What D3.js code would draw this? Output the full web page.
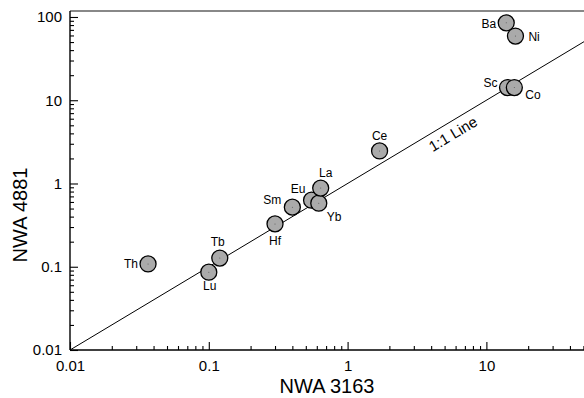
<!DOCTYPE html>
<html>
<head>
<meta charset="utf-8">
<script src="https://cdn.jsdelivr.net/npm/d3@7"></script>
<style>
  body { margin: 0; background: #fff; }
  svg { display: block; }
  svg text { font-family: "Liberation Sans", Arial, sans-serif; fill: #000; }
  .axis path { stroke: #000; stroke-width: 1.4; }
  .axis line { stroke: #000; stroke-width: 1.1; }
  .axis text { font-size: 15px; }
  .pt { fill: #aaaaaa; stroke: #000; stroke-width: 1.3; }
  .lbl { font-size: 12px; }
</style>
</head>
<body>
<svg id="chart" width="584" height="398"></svg>
<script>
// element names and concentrations (NWA 3163 vs NWA 4881)
var elements = ["Th", "Lu", "Tb", "Hf", "Sm", "Eu", "Yb", "La", "Ce", "Sc", "Co", "Ba", "Ni"];
var nwa3163 = [0.0365, 0.10, 0.12, 0.30, 0.40, 0.55, 0.62, 0.64, 1.70, 14.2, 15.9, 13.9, 16.2];
var nwa4881 = [0.108, 0.086, 0.127, 0.327, 0.52, 0.63, 0.58, 0.88, 2.46, 14.2, 14.2, 85, 59];
// label placement: dx, dy, anchor
var labelPos = [
  [-10, 4, "end"], [1, 18, "middle"], [-2, -12, "middle"], [0, 21, "middle"],
  [-11, -3, "end"], [-6, -7, "end"], [8, 18, "start"], [5, -11, "middle"],
  [0, -11, "middle"], [-10, -1, "end"], [11, 11, "start"], [-10, 5, "end"],
  [13, 5, "start"]
];
var xTicks = [0.01, 0.1, 1, 10];
var yTicks = [0.01, 0.1, 1, 10, 100];

var svg = d3.select("#chart");
var mLeft = 70, mBottom = 350, mRight = 584, mTop = 11;

var x = d3.scaleLog().domain([0.01, 50.5]).range([mLeft, mRight]);
var y = d3.scaleLog().domain([0.01, 118]).range([mBottom, mTop]);

// minor ticks
function minors(dom) {
  var out = [];
  for (var e = -2; e <= 2; e++) {
    for (var m = 2; m <= 9; m++) {
      var v = m * Math.pow(10, e);
      if (v >= dom[0] && v <= dom[1]) out.push(v);
    }
  }
  return out;
}

// top frame line
svg.append("line")
  .attr("x1", mLeft).attr("x2", mRight)
  .attr("y1", mTop).attr("y2", mTop)
  .attr("stroke", "#888").attr("stroke-width", 2);

svg.append("g").attr("class", "axis")
  .attr("transform", "translate(0," + mBottom + ")")
  .call(d3.axisTop(x).tickValues(minors(x.domain())).tickSize(4).tickFormat(""))
  .call(g => g.select(".domain").remove());
svg.append("g").attr("class", "axis")
  .attr("transform", "translate(" + mLeft + ",0)")
  .call(d3.axisRight(y).tickValues(minors(y.domain())).tickSize(4).tickFormat(""))
  .call(g => g.select(".domain").remove());

var xAxis = svg.append("g").attr("class", "axis")
  .attr("transform", "translate(0," + mBottom + ")")
  .call(d3.axisTop(x).tickValues(xTicks).tickSize(8).tickSizeOuter(0).tickFormat(d3.format("~g")));
xAxis.selectAll("text").attr("y", 10).attr("dy", "0.71em");
xAxis.select(".domain").attr("d", "M" + mLeft + ",0H" + mRight);

var yAxis = svg.append("g").attr("class", "axis")
  .attr("transform", "translate(" + mLeft + ",0)")
  .call(d3.axisRight(y).tickValues(yTicks).tickSize(8).tickSizeOuter(0).tickFormat(d3.format("~g")));
yAxis.selectAll("text").attr("x", -8).attr("text-anchor", "end");
yAxis.select(".domain").attr("d", "M0," + mBottom + "V" + mTop);

// 1:1 line
var lineEnd = 50.5;
svg.append("line")
  .attr("x1", x(0.01)).attr("y1", y(0.01))
  .attr("x2", x(lineEnd)).attr("y2", y(lineEnd))
  .attr("stroke", "#000").attr("stroke-width", 1);

var ang = Math.atan2(y(0.01) - y(10), x(10) - x(0.01));
var off = 17;
svg.append("text")
  .attr("transform", "translate(" + (x(5.2) + off * Math.sin(ang)) + "," + (y(5.2) + off * Math.cos(ang)) +
    ") rotate(" + (-ang * 180 / Math.PI) + ")")
  .attr("text-anchor", "middle")
  .attr("font-size", 15)
  .text("1:1 Line");

// points
var pts = elements.map((e, i) => ({ name: e, a: nwa3163[i], b: nwa4881[i], p: labelPos[i] }));
var g = svg.append("g");
pts.forEach(function (d) {
  g.append("circle").attr("class", "pt")
    .attr("cx", x(d.a)).attr("cy", y(d.b)).attr("r", 8);
  g.append("circle").attr("cx", x(d.a)).attr("cy", y(d.b)).attr("r", 0.5).attr("fill", "#555");
  g.append("text").attr("class", "lbl")
    .attr("x", x(d.a) + d.p[0]).attr("y", y(d.b) + d.p[1])
    .attr("text-anchor", d.p[2])
    .text(d.name);
});

// axis titles
svg.append("text")
  .attr("x", 327).attr("y", 393)
  .attr("text-anchor", "middle").attr("font-size", 20)
  .text("NWA 3163");
svg.append("text")
  .attr("transform", "translate(27,215) rotate(-90)")
  .attr("text-anchor", "middle").attr("font-size", 20)
  .text("NWA 4881");
</script>
</body>
</html>
